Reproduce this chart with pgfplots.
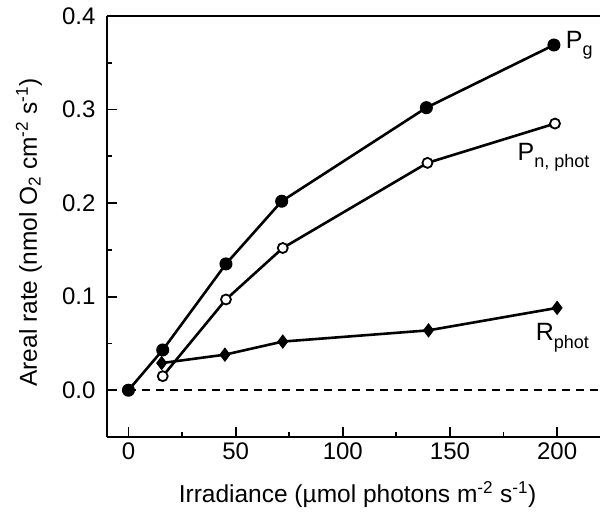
\documentclass[border=0pt]{standalone}
\usepackage{pgfplots}
\pgfplotsset{compat=1.18}
\usepackage{fontspec}
\setmainfont{Liberation Sans}
\begin{document}
\begin{tikzpicture}
\begin{axis}[
  scale only axis,
  width=493pt, height=421pt,
  xmin=-10, xmax=220, ymin=-0.05, ymax=0.4,
  axis x line*=box, axis y line*=left,
  xtick={0,50,100,150,200},
  minor xtick={25,75,125,175},
  ytick={0,0.1,0.2,0.3,0.4},
  minor ytick={0.05,0.15,0.25,0.35},
  xtick pos=bottom, ytick pos=left,
  tick align=inside,
  major tick length=10pt, minor tick length=5pt,
  every tick/.style={line width=1.8pt, black},
  axis line style={line width=2.4pt},
  /pgf/number format/assume math mode=true,
  yticklabel style={/pgf/number format/fixed, /pgf/number format/fixed zerofill, /pgf/number format/precision=1, xshift=-8pt},
  xticklabel style={yshift=-2pt},
  ticklabel style={font=\fontsize{24}{26}\selectfont},
  label style={font=\fontsize{24.5}{27}\selectfont},
  xlabel={Irradiance (µmol photons m\textsuperscript{-2} s\textsuperscript{-1})},
  ylabel={Areal rate (nmol O\textsubscript{2} cm\textsuperscript{-2} s\textsuperscript{-1})},
  xlabel style={at={(axis description cs:0.5,0)}, anchor=base, yshift=-66pt, xshift=4pt},
  ylabel style={at={(axis description cs:0,0.5)}, anchor=base, yshift=70pt, xshift=-6pt},
  clip=false,
]
\addplot[black, line width=1.6pt, dashed, dash pattern=on 8pt off 6pt, forget plot] coordinates {(0,0) (220,0)};
\addplot[black, line width=2.6pt, mark=diamond*, mark size=6.5pt, mark options={solid, fill=black, line width=1pt}] coordinates {
(15.5,0.029) (45,0.038) (72,0.052) (140,0.064) (200,0.088)};
\addplot[black, line width=2.6pt, mark=*, mark size=5pt, mark options={solid, fill=white, line width=1.8pt}] coordinates {
(16,0.015) (45.5,0.097) (72,0.152) (139.5,0.243) (199,0.285)};
\addplot[black, line width=2.6pt, mark=*, mark size=6pt, mark options={solid, fill=black, line width=1pt}] coordinates {
(0,0) (16,0.043) (45.5,0.135) (71.5,0.202) (139,0.302) (198.5,0.369)};
\node[anchor=west, inner sep=0pt, font=\fontsize{25}{28}\selectfont] at (axis cs:204,0.369) {P\raisebox{-0.55ex}{\fontsize{18}{20}\selectfont g}};
\node[anchor=west, inner sep=0pt, font=\fontsize{25}{28}\selectfont] at (axis cs:181.5,0.249) {P\raisebox{-0.55ex}{\fontsize{18}{20}\selectfont n, phot}};
\node[anchor=west, inner sep=0pt, font=\fontsize{25}{28}\selectfont] at (axis cs:190,0.056) {R\raisebox{-0.55ex}{\fontsize{18}{20}\selectfont phot}};
\end{axis}
\pgfresetboundingbox
\path (current axis.south west) +(-107pt,-75pt) (current axis.north east) +(0pt,16pt);
\end{tikzpicture}
\end{document}
